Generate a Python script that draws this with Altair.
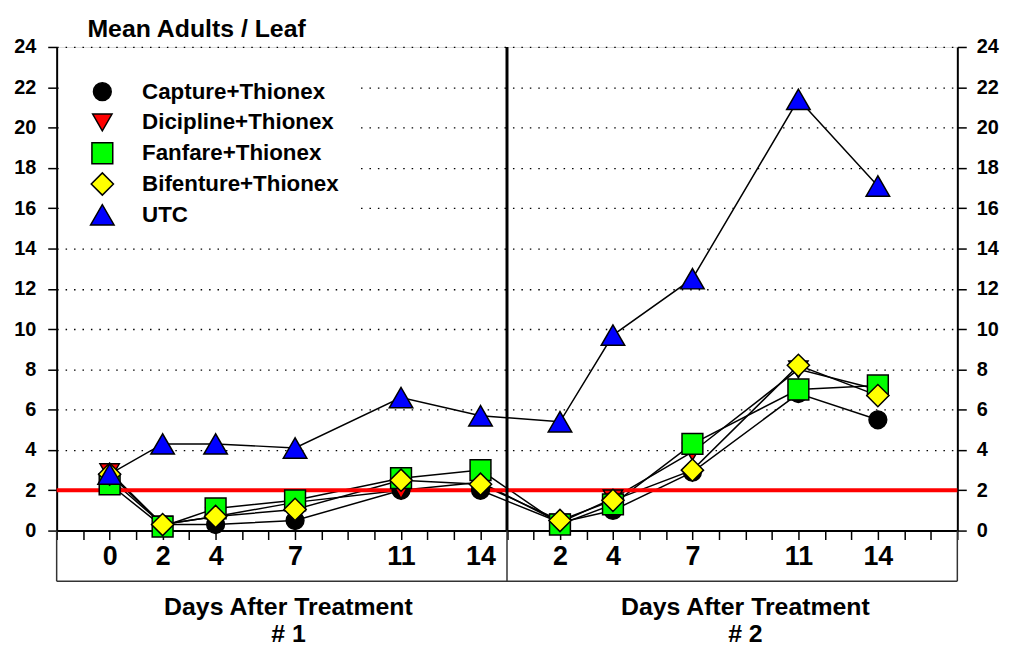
import altair as alt
import pandas as pd

FONT = "Liberation Sans, Arial, Helvetica, sans-serif"

# ---- data ----
series = ["Capture+Thionex", "Dicipline+Thionex", "Fanfare+Thionex", "Bifenture+Thionex", "UTC"]
t1_days = [0, 2, 4, 7, 11, 14]
t2_days = [2, 4, 7, 11, 14]

capture_t1 = [2.6, 0.3, 0.3, 0.5, 2.0, 2.0]
capture_t2 = [0.4, 1.0, 2.9, 6.8, 5.5]
dicipline_t1 = [2.9, 0.3, 0.7, 1.4, 2.0, 2.4]
dicipline_t2 = [0.4, 1.6, 3.9, 8.0, 7.0]
fanfare_t1 = [2.3, 0.2, 1.1, 1.5, 2.6, 3.0]
fanfare_t2 = [0.3, 1.3, 4.3, 7.0, 7.2]
bifenture_t1 = [2.8, 0.3, 0.7, 1.05, 2.5, 2.3]
bifenture_t2 = [0.5, 1.5, 3.0, 8.2, 6.7]
utc_t1 = [2.8, 4.3, 4.3, 4.1, 6.6, 5.7]
utc_t2 = [5.4, 9.7, 12.5, 21.4, 17.1]

threshold = [2]
y_ticks = list(range(0, 25, 2))

shapes = ["circle", "triangle-down", "square", "diamond", "triangle-up"]
fills = ["#000000", "#ff0000", "#00ff00", "#ffff00", "#0000ff"]
sizes = [320, 560, 290, 560, 620]

# ---- layout: treatment 1 day d -> slot d+2, treatment 2 day d -> slot d+17 ----
T1_OFF, T2_OFF, DIVIDER, XMAX = 2, 17, 17, 34

t1_vals = [capture_t1, dicipline_t1, fanfare_t1, bifenture_t1, utc_t1]
t2_vals = [capture_t2, dicipline_t2, fanfare_t2, bifenture_t2, utc_t2]

rows = []
for i, s in enumerate(series):
    for d, v in zip(t1_days, t1_vals[i]):
        rows.append({"series": s, "pos": d + T1_OFF, "value": v, "sidx": i})
    for d, v in zip(t2_days, t2_vals[i]):
        rows.append({"series": s, "pos": d + T2_OFF, "value": v, "sidx": i})
df = pd.DataFrame(rows)

leg_df = pd.DataFrame({"series": series, "row": list(range(len(series)))})

label_map = [(d + T1_OFF, str(d)) for d in t1_days] + [(d + T2_OFF, str(d)) for d in t2_days]
label_expr = "''"
for p, lab in reversed(label_map):
    label_expr = f"datum.value == {p} ? '{lab}' : ({label_expr})"

W, H = 907, 487
BOX_H = 51

x_scale = alt.Scale(domain=[0, XMAX], nice=False, zero=False)
y_scale = alt.Scale(domain=[0, 24], nice=False)
leg_scale = alt.Scale(domain=[0, 4], range=[45, 169])
shape_scale = alt.Scale(domain=series, range=shapes)
fill_scale = alt.Scale(domain=series, range=fills)
size_scale = alt.Scale(domain=series, range=sizes)

x_axis = alt.Axis(
    values=list(range(0, XMAX + 1)), labelExpr=label_expr, title=None, grid=False,
    tickSize=9, tickColor="black", tickWidth=1.5, domainColor="black", domainWidth=2,
    labelFont=FONT, labelFontSize=27, labelFontWeight="bold", labelColor="black",
    labelPadding=4, labelOverlap=False, labelFlush=False, labelBound=False,
)
y_left = alt.Axis(
    orient="left", values=y_ticks, title=None, grid=True, gridColor="black",
    gridDash=[1.5, 7], gridWidth=1.3, tickSize=9, tickColor="black", tickWidth=1.5,
    domainColor="black", domainWidth=2, labelFont=FONT, labelFontSize=20,
    labelFontWeight="bold", labelColor="black", labelPadding=12,
)
y_right = alt.Axis(
    orient="right", values=y_ticks, title=None, grid=False, tickSize=9,
    tickColor="black", tickWidth=1.5, domainColor="black", domainWidth=2,
    labelFont=FONT, labelFontSize=20, labelFontWeight="bold", labelColor="black",
    labelPadding=10,
)

one = pd.DataFrame({"a": [0]})

legend_bg = alt.Chart(one).mark_rect(fill="white", stroke=None).encode(
    x=alt.value(3), x2=alt.value(305), y=alt.value(3), y2=alt.value(182)
)

lines = alt.Chart(df).mark_line(color="black", strokeWidth=1.5).encode(
    x=alt.X("pos:Q", scale=x_scale, axis=x_axis),
    y=alt.Y("value:Q", scale=y_scale, axis=y_left),
    detail="series:N",
    order="pos:Q",
)

red = alt.Chart(pd.DataFrame({"thr": threshold})).mark_rule(
    color="#ff0000", strokeWidth=4
).encode(y=alt.Y("thr:Q", scale=y_scale, axis=y_right))

div_df = pd.DataFrame({"pos": [DIVIDER]})
divider = alt.Chart(div_df).mark_rule(color="black", strokeWidth=3).encode(
    x=alt.X("pos:Q", scale=x_scale, axis=x_axis)
)

box_df = pd.DataFrame({"pos": [0, DIVIDER, XMAX]})
box_vert = alt.Chart(box_df).mark_rule(color="#333333", strokeWidth=1.5).encode(
    x=alt.X("pos:Q", scale=x_scale, axis=x_axis),
    y=alt.value(H), y2=alt.value(H + BOX_H),
)
box_bottom = alt.Chart(one).mark_rule(color="#333333", strokeWidth=1.5).encode(
    x=alt.value(0), x2=alt.value(W), y=alt.value(H + BOX_H)
)

points = alt.Chart(df).mark_point(
    filled=True, stroke="black", strokeWidth=1.5, opacity=1
).encode(
    x=alt.X("pos:Q", scale=x_scale, axis=x_axis),
    y=alt.Y("value:Q", scale=y_scale, axis=None),
    shape=alt.Shape("series:N", scale=shape_scale, legend=None),
    fill=alt.Fill("series:N", scale=fill_scale, legend=None),
    size=alt.Size("series:N", scale=size_scale, legend=None),
    order=alt.Order("sidx:Q"),
)

leg_pts = alt.Chart(leg_df).mark_point(
    filled=True, stroke="black", strokeWidth=1.5, opacity=1
).encode(
    x=alt.value(46),
    y=alt.Y("row:Q", scale=leg_scale, axis=None),
    shape=alt.Shape("series:N", scale=shape_scale, legend=None),
    fill=alt.Fill("series:N", scale=fill_scale, legend=None),
    size=alt.Size("series:N", scale=size_scale, legend=None),
)
leg_txt = alt.Chart(leg_df).mark_text(
    align="left", baseline="middle", font=FONT, fontSize=22.5,
    fontWeight="bold", color="black",
).encode(
    x=alt.value(86),
    y=alt.Y("row:Q", scale=leg_scale, axis=None),
    text="series:N",
)

title = alt.Chart(one).mark_text(
    text="Mean Adults / Leaf", align="left", baseline="middle",
    font=FONT, fontSize=25, fontWeight="bold", color="black",
).encode(x=alt.value(31), y=alt.value(-18))

xt_df = pd.DataFrame({
    "line1": ["Days After Treatment", "Days After Treatment"],
    "line2": ["# 1", "# 2"],
    "cx": [8.75, 26.0],
})
xt1 = alt.Chart(xt_df).mark_text(
    align="center", baseline="middle", font=FONT, fontSize=25,
    fontWeight="bold", color="black",
).encode(x=alt.X("cx:Q", scale=x_scale, axis=x_axis), y=alt.value(564), text="line1:N")
xt2 = alt.Chart(xt_df).mark_text(
    align="center", baseline="middle", font=FONT, fontSize=25,
    fontWeight="bold", color="black",
).encode(x=alt.X("cx:Q", scale=x_scale, axis=x_axis), y=alt.value(591), text="line2:N")

chart = alt.layer(
    legend_bg, lines, red, divider, box_vert, box_bottom, points,
    leg_pts, leg_txt, title, xt1, xt2
).resolve_scale(y="independent").resolve_axis(y="independent").properties(
    width=W, height=H,
    autosize=alt.AutoSizeParams(type="none"),
    padding={"left": 49, "top": 37, "right": 48, "bottom": 116},
).configure_view(stroke="black", strokeWidth=2).configure(background="white")

chart.save("out.html", embed_options={"renderer": "svg", "actions": False})
